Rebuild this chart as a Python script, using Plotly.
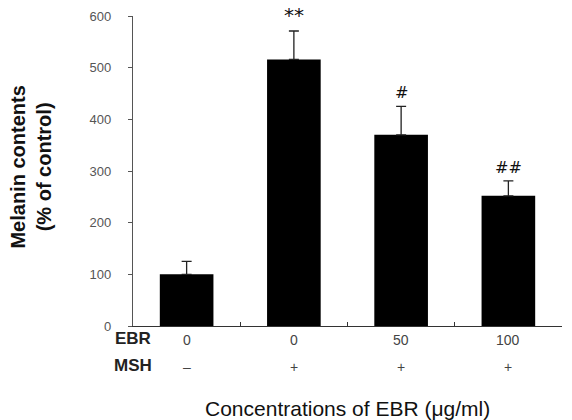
import plotly.graph_objects as go

positions = [0, 1, 2, 3]
ebr_labels = ["0", "0", "50", "100"]
msh_labels = ["–", "+", "+", "+"]
melanin = [100, 516, 370, 252]
errors = [25, 55, 55, 29]
signif = ["", "**", "#", "##"]
y_ticks = [0, 100, 200, 300, 400, 500, 600]

fig = go.Figure()
fig.add_trace(go.Bar(
    x=positions, y=melanin, width=0.5,
    marker=dict(color="black", line=dict(width=0)),
    error_y=dict(type="data", array=errors, arrayminus=[0]*4, symmetric=False,
                 color="#222", thickness=1.3, width=5),
))

ann = []
for x, lab, err, val in zip(positions, signif, errors, melanin):
    if lab:
        ann.append(dict(x=x, y=val + err, text=lab, showarrow=False, yanchor="bottom",
                        yshift=2, font=dict(family="DejaVu Sans", size=20 if lab == "**" else 16, color="#111")))
for x, lab in zip(positions, ebr_labels):
    ann.append(dict(x=x, y=-0.076, yref="paper", text=lab, showarrow=False,
                    font=dict(family="Liberation Sans", size=14, color="#444")))
for x, lab in zip(positions, msh_labels):
    ann.append(dict(x=x, y=-0.164, yref="paper", text=lab, showarrow=False,
                    font=dict(family="Liberation Sans", size=14, color="#444")))
ann.append(dict(x=-0.5, xanchor="center", y=-0.076, yref="paper", text="<b>EBR</b>",
                showarrow=False, font=dict(family="Liberation Sans", size=17, color="#222")))
ann.append(dict(x=-0.5, xanchor="center", y=-0.164, yref="paper", text="<b>MSH</b>",
                showarrow=False, font=dict(family="Liberation Sans", size=17, color="#222")))
ann.append(dict(x=1.5, y=-0.265, yref="paper", yanchor="middle", text="Concentrations of EBR (μg/ml)",
                showarrow=False, font=dict(family="Liberation Sans", size=21, color="#111")))
ann.append(dict(x=-0.238, xref="paper", xanchor="center", y=0.514, yref="paper", yanchor="middle",
                textangle=-90, showarrow=False,
                text="<b>Melanin contents<br>(% of control)</b>",
                font=dict(family="Liberation Sans", size=20, color="#111")))

fig.update_layout(
    width=572, height=420,
    margin=dict(l=133, r=10, t=9, b=94),
    plot_bgcolor="white", paper_bgcolor="white",
    showlegend=False,
    annotations=ann,
    xaxis=dict(range=[-0.5, 3.5], tickvals=[0.5, 1.5, 2.5, 3.5], ticktext=["", "", "", ""],
               ticks="inside", ticklen=4, tickcolor="#333", showline=True, linecolor="#333",
               linewidth=1.2, showgrid=False, zeroline=False, fixedrange=True),
    yaxis=dict(range=[0, 600], tickvals=y_ticks, ticks="outside", ticklen=4, tickcolor="#555",
               showline=True, linecolor="#555", linewidth=1.2, showgrid=False, zeroline=False,
               ticklabelstandoff=14,
               tickfont=dict(family="Liberation Sans", size=13, color="#555")),
)

fig.write_html("out.html")
